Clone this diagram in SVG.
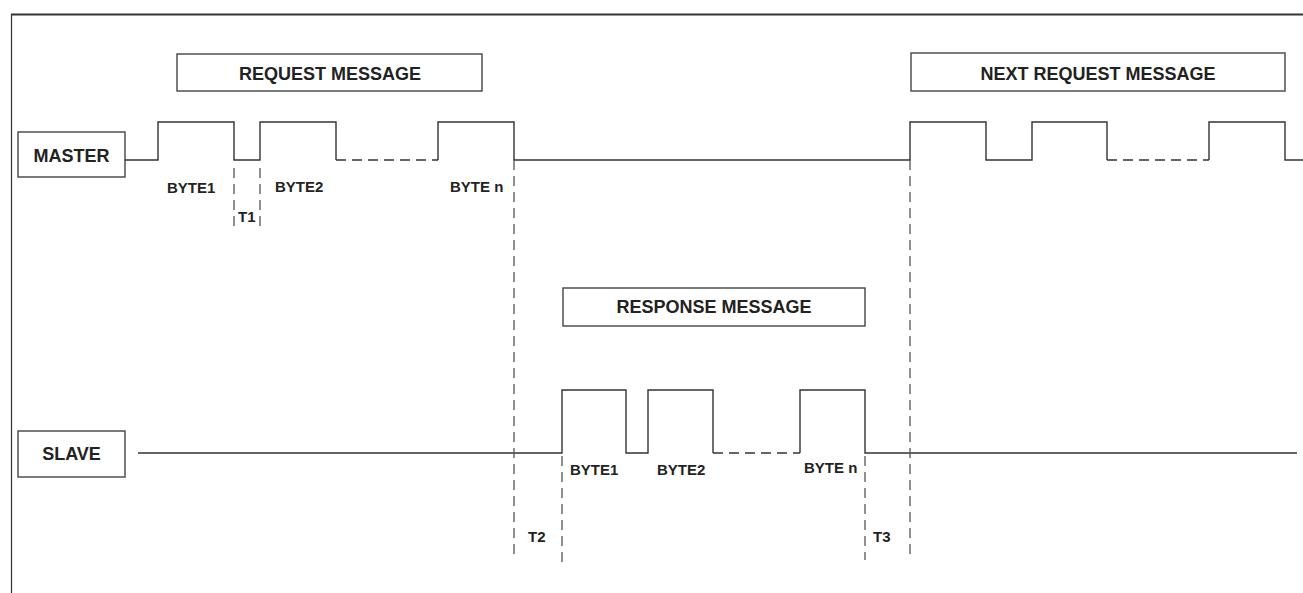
<svg xmlns="http://www.w3.org/2000/svg" width="1303" height="593" viewBox="0 0 1303 593">
<style>
.box{fill:#fff;stroke:#444;stroke-width:1.4}
.sig{fill:none;stroke:#333;stroke-width:1.4}
.dl{fill:none;stroke:#333;stroke-width:1.4;stroke-dasharray:10,6}
.vd{fill:none;stroke:#555;stroke-width:1.3;stroke-dasharray:10,6}
.lbl{font-family:"Liberation Sans",Arial,sans-serif;font-weight:bold;font-size:18px;fill:#222;text-anchor:middle}
.sm{font-family:"Liberation Sans",Arial,sans-serif;font-weight:bold;font-size:15px;fill:#222}
</style>
<rect width="1303" height="593" fill="#fff"/>
<g id="frame">
<line x1="11" y1="14.5" x2="1303" y2="14.5" stroke="#333" stroke-width="2"/>
<line x1="11.5" y1="14" x2="11.5" y2="593" stroke="#333" stroke-width="1.2"/>
</g>
<g id="request-message"><rect class="box" x="177" y="54" width="305" height="37"/><text class="lbl" x="330" y="80">REQUEST MESSAGE</text></g>
<g id="next-request-message"><rect class="box" x="911" y="53" width="374" height="38"/><text class="lbl" x="1098" y="80">NEXT REQUEST MESSAGE</text></g>
<g id="response-message"><rect class="box" x="563" y="288" width="302" height="38"/><text class="lbl" x="714" y="313">RESPONSE MESSAGE</text></g>
<g id="master"><rect class="box" x="18" y="132" width="107" height="45"/><text class="lbl" x="71.5" y="162">MASTER</text></g>
<g id="slave"><rect class="box" x="18" y="431" width="107" height="46"/><text class="lbl" x="71.5" y="460">SLAVE</text></g>
<g id="connectors">
<path class="sig" d="M125 160 H158 V122 H234 V160 H260 V122 H336 V160"/>
<path class="dl" d="M336 160 H438"/>
<path class="sig" d="M438 160 V122 H514 V160 H910 V122 H986 V160 H1032 V122 H1107 V160"/>
<path class="dl" d="M1107 160 H1209" stroke-dasharray="20,6,8,6,3,8"/>
<path class="sig" d="M1209 160 V122 H1285 V160 H1303"/>
<path class="sig" d="M138 453 H562 V390 H626 V453 H648 V390 H713 V453"/>
<path class="dl" d="M713 453 H800" stroke-dasharray="24,8,7,11,2,10"/>
<path class="sig" d="M800 453 V390 H865 V453 H1297"/>
<path class="vd" d="M234 168 V228 M260 168 V228"/>
<path class="vd" d="M514 160 V560"/>
<path class="vd" d="M562 456 V562"/>
<path class="vd" d="M865 456 V560"/>
<path class="vd" d="M910 160 V560"/>
</g>
<g id="labels">
<text class="sm" x="167" y="193">BYTE1</text>
<text class="sm" x="275" y="192">BYTE2</text>
<text class="sm" x="450" y="192">BYTE n</text>
<text class="sm" x="238" y="222">T1</text>
<text class="sm" x="570" y="475">BYTE1</text>
<text class="sm" x="657" y="475">BYTE2</text>
<text class="sm" x="804" y="473">BYTE n</text>
<text class="sm" x="528" y="542">T2</text>
<text class="sm" x="873" y="542">T3</text>
</g>
</svg>
